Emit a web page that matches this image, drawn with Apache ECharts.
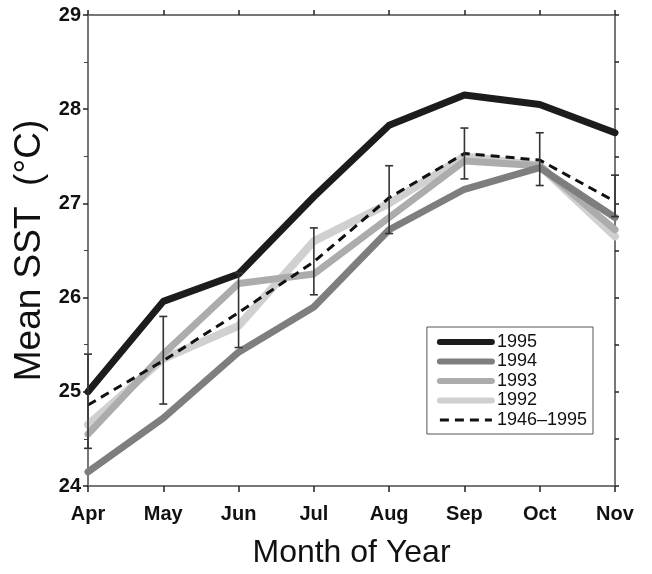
<!DOCTYPE html>
<html>
<head>
<meta charset="utf-8">
<script src="https://cdn.jsdelivr.net/npm/echarts@6/dist/echarts.min.js"></script>
<style>
  html, body { margin: 0; padding: 0; background: #fff; }
  #chart { width: 652px; height: 574px; }
</style>
</head>
<body>
<div id="chart"></div>
<script>
var months = ['Apr', 'May', 'Jun', 'Jul', 'Aug', 'Sep', 'Oct', 'Nov']
var sst1995 = [25.0, 25.96, 26.25, 27.07, 27.83, 28.15, 28.05, 27.75]
var sst1994 = [24.15, 24.72, 25.42, 25.9, 26.72, 27.15, 27.38, 26.85]
var sst1993 = [24.55, 25.4, 26.15, 26.25, 26.85, 27.45, 27.4, 26.72]
var sst1992 = [24.65, 25.35, 25.7, 26.6, 27.0, 27.5, 27.4, 26.65]
var sstMean = [24.86, 25.33, 25.84, 26.38, 27.06, 27.53, 27.46, 27.02]
var errLow = [24.4, 24.87, 25.47, 26.03, 26.68, 27.26, 27.19, 26.86]
var errHigh = [25.4, 25.8, 26.26, 26.74, 27.4, 27.8, 27.75, 27.3]
var yTicks = [24, 25, 26, 27, 28, 29]

var font = '"Liberation Sans", Arial, Helvetica, sans-serif'
var chart = echarts.init(document.getElementById('chart'), null, { renderer: 'canvas' })

function lineSeries(name, data, color, width, z) {
  return {
    name: name,
    type: 'line',
    data: data,
    symbol: 'none',
    z: z,
    lineStyle: { color: color, width: width, join: 'round', cap: 'round' },
    itemStyle: { color: color },
    animation: false
  }
}

var errData = months.map(function (m, i) { return [i, errLow[i], errHigh[i]] })

chart.setOption({
  backgroundColor: '#fff',
  animation: false,
  grid: { left: 88, right: 37, top: 15, bottom: 85 },
  legend: {
    right: 59,
    top: 327,
    orient: 'vertical',
    data: [
      { name: '1995', lineStyle: { width: 6 } },
      { name: '1994', lineStyle: { width: 6 } },
      { name: '1993', lineStyle: { width: 6 } },
      { name: '1992', lineStyle: { width: 6 } },
      { name: '1946–1995', lineStyle: { width: 3 } }
    ],
    itemWidth: 52,
    itemHeight: 14,
    itemGap: 1.5,
    itemStyle: { opacity: 0 },
    padding: [6, 6, 5, 10],
    borderColor: '#555',
    borderWidth: 1,
    textStyle: { fontFamily: font, fontSize: 18, lineHeight: 18, color: '#111' }
  },
  xAxis: [{
    type: 'category',
    data: months,
    boundaryGap: false,
    name: 'Month of Year',
    nameLocation: 'middle',
    nameGap: 51,
    nameTextStyle: { fontFamily: font, fontSize: 32, color: '#111' },
    axisLine: { lineStyle: { color: '#777', width: 2 } },
    axisTick: { alignWithLabel: true, length: 6, lineStyle: { color: '#222', width: 1.5 } },
    axisLabel: { fontFamily: font, fontSize: 20, fontWeight: 'bold', color: '#111', margin: 18 },
    splitLine: { show: false }
  }, {
    type: 'category',
    data: months,
    boundaryGap: false,
    position: 'top',
    axisLine: { lineStyle: { color: '#777', width: 2 } },
    axisTick: { length: 5, lineStyle: { color: '#222', width: 1.5 } },
    axisLabel: { show: false }
  }],
  yAxis: [{
    type: 'value',
    min: 24,
    max: 29,
    interval: 1,
    name: 'Mean SST  (°C)',
    nameLocation: 'middle',
    nameGap: 39,
    nameTextStyle: { fontFamily: font, fontSize: 37, color: '#111' },
    axisLine: { show: true, lineStyle: { color: '#777', width: 2 } },
    axisTick: { show: true, length: 5, lineStyle: { color: '#222', width: 1.5 } },
    minorTick: { show: true, splitNumber: 2, length: 4, lineStyle: { color: '#444', width: 1 } },
    axisLabel: {
      fontFamily: font, fontSize: 20, fontWeight: 'bold', color: '#111', margin: 7,
      formatter: function (v) { return yTicks.indexOf(v) >= 0 ? String(v) : '' }
    },
    splitLine: { show: false }
  }, {
    type: 'value',
    min: 24,
    max: 29,
    interval: 0.5,
    position: 'right',
    axisLine: { show: true, lineStyle: { color: '#777', width: 2 } },
    axisTick: { show: true, length: 4, lineStyle: { color: '#222', width: 1.5 } },
    axisLabel: { show: false },
    splitLine: { show: false }
  }],
  series: [
    lineSeries('1992', sst1992, '#d0d0d0', 8, 2),
    lineSeries('1993', sst1993, '#acacac', 7, 3),
    lineSeries('1994', sst1994, '#7e7e7e', 7, 4),
    lineSeries('1995', sst1995, '#1c1c1c', 7, 5),
    {
      name: '1946–1995',
      type: 'line',
      data: sstMean,
      symbol: 'none',
      z: 6,
      lineStyle: { color: '#111', width: 3, type: [9, 6] },
      itemStyle: { color: '#111' }
    },
    {
      name: 'err',
      type: 'custom',
      z: 7,
      data: errData,
      renderItem: function (params, api) {
        var lo = api.coord([api.value(0), api.value(1)])
        var hi = api.coord([api.value(0), api.value(2)])
        var w = 4
        var style = { stroke: '#333', lineWidth: 1.6 }
        return {
          type: 'group',
          children: [
            { type: 'line', shape: { x1: lo[0], y1: lo[1], x2: hi[0], y2: hi[1] }, style: style },
            { type: 'line', shape: { x1: lo[0] - w, y1: lo[1], x2: lo[0] + w, y2: lo[1] }, style: style },
            { type: 'line', shape: { x1: hi[0] - w, y1: hi[1], x2: hi[0] + w, y2: hi[1] }, style: style }
          ]
        }
      }
    }
  ]
})
</script>
</body>
</html>
